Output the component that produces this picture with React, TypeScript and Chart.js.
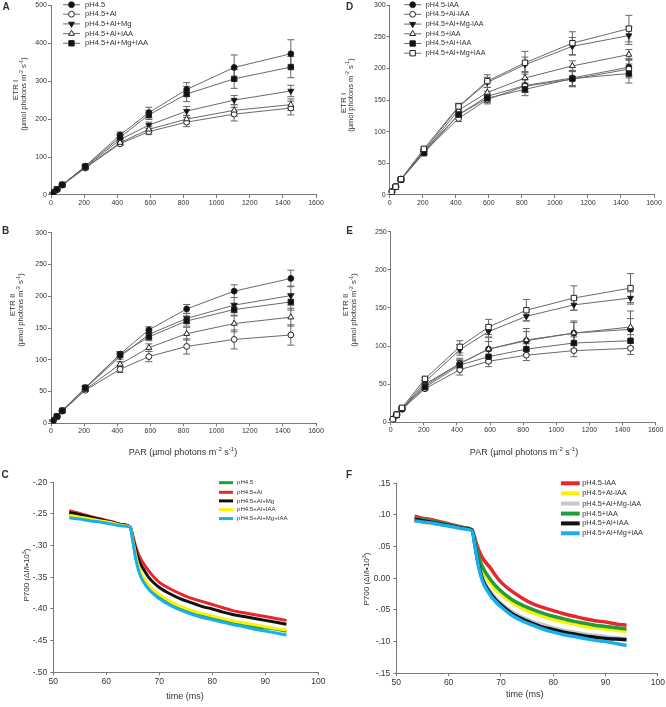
import React, { useEffect, useRef } from 'react';
import { Chart, registerables } from 'chart.js';
Chart.register(...registerables);

// ---------------- DATA ----------------
const PAR = [0, 12, 36, 68, 207, 417, 591, 819, 1106, 1448];

// Panel A (ETR I)
const A_PH45 = [0, 6, 15, 27, 76, 158, 217, 278, 336, 372];
const A_PH45_ERR = [0, 1, 1, 2, 3, 8, 14, 18, 33, 37];
const A_AL = [0, 5, 14, 26, 71, 135, 167, 192, 213, 229];
const A_AL_ERR = [0, 1, 1, 2, 3, 5, 8, 12, 18, 18];
const A_ALMG = [0, 6, 14, 27, 73, 146, 184, 221, 250, 274];
const A_ALMG_ERR = [0, 1, 1, 2, 3, 6, 8, 12, 12, 15];
const A_ALIAA = [0, 5, 14, 26, 72, 138, 173, 200, 223, 238];
const A_ALIAA_ERR = [0, 1, 1, 2, 3, 5, 8, 10, 15, 15];
const A_ALMGIAA = [0, 6, 15, 27, 75, 152, 211, 266, 306, 337];
const A_ALMGIAA_ERR = [0, 1, 1, 2, 3, 8, 12, 20, 25, 28];

// Panel B (ETR II)
const B_PH45 = [0, 4, 11, 20, 56, 109, 147, 180, 208, 228];
const B_PH45_ERR = [0, 1, 1, 1, 2, 4, 5, 7, 10, 13];
const B_AL = [0, 4, 10, 19, 52, 85, 105, 121, 132, 139];
const B_AL_ERR = [0, 1, 1, 1, 2, 5, 8, 12, 15, 16];
const B_ALMG = [0, 4, 11, 20, 55, 105, 140, 165, 186, 201];
const B_ALMG_ERR = [0, 1, 1, 1, 2, 4, 6, 8, 12, 15];
const B_ALIAA = [0, 4, 10, 19, 53, 93, 119, 141, 157, 167];
const B_ALIAA_ERR = [0, 1, 1, 1, 2, 4, 6, 10, 13, 14];
const B_ALMGIAA = [0, 4, 11, 20, 56, 108, 136, 161, 179, 191];
const B_ALMGIAA_ERR = [0, 1, 1, 1, 2, 4, 6, 8, 10, 13];

// Panel D (ETR I, IAA series)
const D_PH45_NOIAA = [0, 5, 13, 25, 69, 127, 156, 173, 185, 202];
const D_PH45_NOIAA_ERR = [0, 1, 1, 2, 3, 6, 8, 10, 12, 14];
const D_AL_NOIAA = [0, 5, 13, 24, 68, 121, 151, 172, 183, 199];
const D_AL_NOIAA_ERR = [0, 1, 1, 2, 3, 5, 7, 10, 12, 14];
const D_ALMG_NOIAA = [0, 5, 13, 25, 70, 139, 178, 206, 235, 252];
const D_ALMG_NOIAA_ERR = [0, 1, 1, 2, 3, 5, 8, 12, 14, 14];
const D_PH45_IAA = [0, 5, 13, 25, 68, 134, 162, 185, 204, 222];
const D_PH45_IAA_ERR = [0, 1, 1, 2, 3, 5, 8, 10, 8, 8];
const D_AL_IAA = [0, 5, 13, 24, 66, 127, 153, 167, 184, 192];
const D_AL_IAA_ERR = [0, 1, 1, 2, 3, 5, 7, 10, 12, 15];
const D_ALMG_IAA = [0, 5, 13, 25, 73, 140, 180, 209, 240, 263];
const D_ALMG_IAA_ERR = [0, 1, 1, 2, 3, 5, 10, 18, 18, 21];

// Panel E (ETR II, IAA series)
const E_PH45_NOIAA = [0, 4, 10, 18, 50, 77, 96, 107, 117, 122];
const E_PH45_NOIAA_ERR = [0, 1, 1, 1, 2, 5, 10, 12, 14, 14];
const E_AL_NOIAA = [0, 4, 9, 17, 44, 69, 80, 88, 94, 97];
const E_AL_NOIAA_ERR = [0, 1, 1, 1, 2, 7, 7, 7, 8, 8];
const E_ALMG_NOIAA = [0, 4, 10, 18, 53, 95, 119, 139, 154, 163];
const E_ALMG_NOIAA_ERR = [0, 1, 1, 1, 2, 7, 7, 6, 7, 8];
const E_PH45_IAA = [0, 4, 10, 18, 48, 77, 96, 108, 117, 125];
const E_PH45_IAA_ERR = [0, 1, 1, 1, 2, 7, 15, 15, 16, 21];
const E_AL_IAA = [0, 4, 10, 18, 46, 75, 86, 96, 104, 107];
const E_AL_IAA_ERR = [0, 1, 1, 1, 2, 6, 8, 7, 8, 8];
const E_ALMG_IAA = [0, 4, 10, 19, 57, 99, 125, 147, 163, 176];
const E_ALMG_IAA_ERR = [0, 1, 1, 1, 2, 8, 10, 14, 16, 19];

// Panel C (P700 kinetics)
const TIME_C = [53, 55, 57, 59, 61, 63, 64.5, 65, 65.5, 66, 66.5, 67, 68, 69, 70, 72, 74, 76, 78, 80, 82, 84, 86, 88, 90, 92, 94];
const C_PH45 = [-0.250, -0.253, -0.257, -0.260, -0.263, -0.267, -0.270, -0.291, -0.315, -0.332, -0.344, -0.352, -0.364, -0.373, -0.380, -0.390, -0.398, -0.404, -0.409, -0.414, -0.418, -0.421, -0.425, -0.428, -0.430, -0.432, -0.435];
const C_AL = [-0.245, -0.249, -0.254, -0.258, -0.262, -0.267, -0.270, -0.284, -0.300, -0.312, -0.321, -0.328, -0.340, -0.350, -0.358, -0.368, -0.376, -0.383, -0.388, -0.393, -0.398, -0.403, -0.406, -0.409, -0.412, -0.415, -0.418];
const C_ALMG = [-0.248, -0.251, -0.255, -0.259, -0.263, -0.267, -0.270, -0.287, -0.305, -0.320, -0.330, -0.337, -0.350, -0.359, -0.366, -0.376, -0.384, -0.390, -0.396, -0.400, -0.405, -0.409, -0.412, -0.415, -0.418, -0.421, -0.424];
const C_ALIAA = [-0.252, -0.255, -0.258, -0.261, -0.264, -0.268, -0.270, -0.290, -0.313, -0.330, -0.342, -0.350, -0.362, -0.371, -0.377, -0.388, -0.396, -0.402, -0.407, -0.411, -0.415, -0.419, -0.422, -0.425, -0.428, -0.431, -0.433];
const C_ALMGIAA = [-0.256, -0.258, -0.261, -0.263, -0.266, -0.269, -0.271, -0.293, -0.318, -0.337, -0.349, -0.357, -0.369, -0.377, -0.384, -0.394, -0.402, -0.408, -0.413, -0.417, -0.421, -0.425, -0.428, -0.432, -0.435, -0.438, -0.441];

// Panel F (P700 kinetics, IAA series)
const TIME_F = [53.5, 55, 57, 59, 61, 63, 64.5, 65, 65.5, 66, 66.5, 67, 68, 69, 70, 72, 74, 76, 78, 80, 82, 84, 86, 88, 90, 92, 94];
const F_PH45_NOIAA = [0.098, 0.095, 0.092, 0.088, 0.084, 0.080, 0.076, 0.064, 0.050, 0.040, 0.032, 0.026, 0.016, 0.004, -0.006, -0.020, -0.031, -0.040, -0.046, -0.051, -0.056, -0.060, -0.064, -0.067, -0.069, -0.072, -0.074];
const F_AL_NOIAA = [0.091, 0.089, 0.087, 0.085, 0.082, 0.079, 0.076, 0.058, 0.038, 0.022, 0.012, 0.004, -0.008, -0.018, -0.025, -0.038, -0.047, -0.054, -0.060, -0.065, -0.069, -0.072, -0.076, -0.078, -0.080, -0.082, -0.084];
const F_ALMG_NOIAA = [0.092, 0.090, 0.088, 0.085, 0.082, 0.079, 0.076, 0.055, 0.032, 0.014, 0.001, -0.008, -0.021, -0.031, -0.039, -0.052, -0.061, -0.068, -0.073, -0.078, -0.082, -0.085, -0.088, -0.090, -0.092, -0.094, -0.095];
const F_PH45_IAA = [0.095, 0.093, 0.090, 0.087, 0.083, 0.079, 0.076, 0.060, 0.042, 0.028, 0.018, 0.010, -0.002, -0.012, -0.020, -0.033, -0.042, -0.049, -0.055, -0.060, -0.064, -0.068, -0.071, -0.074, -0.076, -0.078, -0.080];
const F_AL_IAA = [0.093, 0.091, 0.088, 0.085, 0.082, 0.079, 0.076, 0.054, 0.030, 0.012, -0.002, -0.011, -0.024, -0.034, -0.042, -0.055, -0.064, -0.071, -0.077, -0.081, -0.085, -0.088, -0.091, -0.093, -0.095, -0.096, -0.097];
const F_ALMG_IAA = [0.091, 0.089, 0.087, 0.084, 0.081, 0.078, 0.075, 0.052, 0.028, 0.009, -0.005, -0.014, -0.027, -0.037, -0.045, -0.058, -0.067, -0.074, -0.080, -0.085, -0.089, -0.092, -0.095, -0.098, -0.100, -0.103, -0.106];

const LABELS_ABC = ['pH4.5', 'pH4.5+Al', 'pH4.5+Al+Mg', 'pH4.5+Al+IAA', 'pH4.5+Al+Mg+IAA'];
const LABELS_DEF = ['pH4.5-IAA', 'pH4.5+Al-IAA', 'pH4.5+Al+Mg-IAA', 'pH4.5+IAA', 'pH4.5+Al+IAA', 'pH4.5+Al+Mg+IAA'];

// ---------------- STYLE ----------------
const W = 666;
const H = 707;
const YW = 30;
const XH = 20;
const FONT = '"Liberation Sans", Arial, Helvetica, sans-serif';
const TXT = '#333333';
const AX = '#7a7a7a';
const LINE = '#6a6a6a';

const GREEN = '#1f9e3f';
const RED = '#e8262c';
const BLACK = '#111111';
const YELLOW = '#fff200';
const BLUE = '#18aeef';
const GRAY = '#c8c8c8';

type Mk = { pointStyle: string; radius: number; rotation: number; fill: string };
const MK: Record<string, Mk> = {
  fc: { pointStyle: 'circle', radius: 2.9, rotation: 0, fill: '#111' },
  oc: { pointStyle: 'circle', radius: 2.9, rotation: 0, fill: '#fff' },
  ft: { pointStyle: 'triangle', radius: 3.4, rotation: 180, fill: '#111' },
  ot: { pointStyle: 'triangle', radius: 3.4, rotation: 0, fill: '#fff' },
  fs: { pointStyle: 'rect', radius: 3.8, rotation: 0, fill: '#111' },
  os: { pointStyle: 'rect', radius: 3.8, rotation: 0, fill: '#fff' },
};

function drawMarker(ctx: CanvasRenderingContext2D, mk: Mk, x: number, y: number) {
  ctx.save();
  ctx.beginPath();
  if (mk.pointStyle === 'circle') {
    ctx.arc(x, y, mk.radius, 0, Math.PI * 2);
  } else if (mk.pointStyle === 'rect') {
    const s = mk.radius * Math.SQRT1_2;
    ctx.rect(x - s, y - s, 2 * s, 2 * s);
  } else {
    let rad = (mk.rotation * Math.PI) / 180;
    const r = mk.radius;
    ctx.moveTo(x + Math.sin(rad) * r, y - Math.cos(rad) * r);
    rad += (2 * Math.PI) / 3;
    ctx.lineTo(x + Math.sin(rad) * r, y - Math.cos(rad) * r);
    rad += (2 * Math.PI) / 3;
    ctx.lineTo(x + Math.sin(rad) * r, y - Math.cos(rad) * r);
    ctx.closePath();
  }
  ctx.fillStyle = mk.fill;
  ctx.fill();
  ctx.strokeStyle = '#222';
  ctx.lineWidth = 1;
  ctx.stroke();
  ctx.restore();
}

function parseRich(s: string) {
  const out: { t: string; sup: boolean }[] = [];
  const re = /\^\{([^}]*)\}/g;
  let last = 0;
  let m: RegExpExecArray | null;
  while ((m = re.exec(s))) {
    if (m.index > last) out.push({ t: s.slice(last, m.index), sup: false });
    out.push({ t: m[1], sup: true });
    last = re.lastIndex;
  }
  if (last < s.length) out.push({ t: s.slice(last), sup: false });
  return out;
}

type Txt = { x: number; y: number; t: string; size: number; bold?: boolean; rot?: number; align?: 'center' | 'left' };

function drawRich(ctx: CanvasRenderingContext2D, tx: Txt) {
  const segs = parseRich(tx.t);
  const f = (s: number) => `${tx.bold ? 'bold ' : ''}${s}px ${FONT}`;
  ctx.save();
  ctx.translate(tx.x, tx.y);
  if (tx.rot) ctx.rotate((tx.rot * Math.PI) / 180);
  let total = 0;
  for (const s of segs) {
    ctx.font = f(s.sup ? tx.size * 0.68 : tx.size);
    total += ctx.measureText(s.t).width;
  }
  let cx = tx.align === 'left' ? 0 : -total / 2;
  ctx.textBaseline = 'middle';
  ctx.textAlign = 'left';
  ctx.fillStyle = TXT;
  for (const s of segs) {
    const fs = s.sup ? tx.size * 0.68 : tx.size;
    ctx.font = f(fs);
    ctx.fillText(s.t, cx, s.sup ? -tx.size * 0.36 : 0);
    cx += ctx.measureText(s.t).width;
  }
  ctx.restore();
}

type LegItem = { label: string; color?: string; mk?: Mk };
type Leg = { x1: number; x2: number; tx: number; ys: number[]; size: number; lw: number; items: LegItem[] };

type PanelDef = {
  plot: [number, number, number, number];
  x: [number, number, number];
  y: [number, number, number];
  tickSize: number;
  yPad: number;
  xPad: number;
  fmt?: (v: number) => string;
  datasets: any[];
  texts: Txt[];
  legend: Leg;
};

const fmtInt = (v: number) => String(Math.round(v));
const fmtDec = (v: number) => {
  const r = Math.round(v * 100) / 100;
  if (r === 0) return '0.00';
  const s = Math.abs(r).toFixed(2).replace(/^0/, '');
  return (r < 0 ? '-' : '') + s;
};

function etrSets(vals: number[][], errs: number[][], labels: string[], mks: Mk[]) {
  return vals.map((v, i) => ({
    label: labels[i],
    data: PAR.map((x, j) => ({ x, y: v[j] })),
    errors: errs[i],
    borderColor: LINE,
    borderWidth: 1,
    pointStyle: mks[i].pointStyle,
    pointRadius: mks[i].radius,
    pointRotation: mks[i].rotation,
    pointBackgroundColor: mks[i].fill,
    pointBorderColor: '#222',
    pointBorderWidth: 1,
    tension: 0,
    order: -i,
  }));
}

function p700Sets(xs: number[], vals: number[][], labels: string[], colors: string[], lw: number) {
  return vals.map((v, i) => ({
    label: labels[i],
    data: xs.map((x, j) => ({ x, y: v[j] })),
    borderColor: colors[i],
    borderWidth: lw,
    pointRadius: 0,
    cubicInterpolationMode: 'monotone',
    order: -i,
  }));
}

const errPlugin = {
  id: 'errbars',
  beforeDatasetsDraw(chart: any) {
    const ctx = chart.ctx;
    const xs = chart.scales.x;
    const ys = chart.scales.y;
    chart.data.datasets.forEach((ds: any) => {
      if (!ds.errors) return;
      ctx.save();
      ctx.strokeStyle = '#666';
      ctx.lineWidth = 1;
      ds.data.forEach((p: any, i: number) => {
        const e = ds.errors[i];
        if (!e) return;
        const x = xs.getPixelForValue(p.x);
        const y1 = ys.getPixelForValue(p.y + e);
        const y2 = ys.getPixelForValue(p.y - e);
        ctx.beginPath();
        ctx.moveTo(x, y1);
        ctx.lineTo(x, y2);
        ctx.moveTo(x - 3.5, y1);
        ctx.lineTo(x + 3.5, y1);
        ctx.moveTo(x - 3.5, y2);
        ctx.lineTo(x + 3.5, y2);
        ctx.stroke();
      });
      ctx.restore();
    });
  },
};

function decoPlugin(def: PanelDef) {
  return {
    id: 'deco',
    afterDraw(chart: any) {
      const ctx = chart.ctx;
      def.texts.forEach((t) => drawRich(ctx, t));
      const lg = def.legend;
      lg.items.forEach((it, i) => {
        const y = lg.ys[i];
        ctx.save();
        ctx.strokeStyle = it.color || LINE;
        ctx.lineWidth = lg.lw;
        ctx.beginPath();
        ctx.moveTo(lg.x1, y);
        ctx.lineTo(lg.x2, y);
        ctx.stroke();
        ctx.restore();
        if (it.mk) drawMarker(ctx, it.mk, (lg.x1 + lg.x2) / 2, y);
        drawRich(ctx, { x: lg.tx, y, t: it.label, size: lg.size, align: 'left' });
      });
    },
  };
}

function axis(r: [number, number, number], size: number, pad: number, fmt: (v: number) => string, isX: boolean) {
  return {
    type: 'linear',
    position: isX ? 'bottom' : 'left',
    min: r[0],
    max: r[1],
    ticks: {
      stepSize: r[2],
      autoSkip: false,
      maxRotation: 0,
      minRotation: 0,
      font: { family: FONT, size },
      color: TXT,
      padding: pad,
      callback: (v: any) => fmt(Number(v)),
    },
    grid: { drawOnChartArea: false, drawTicks: true, tickLength: 3, color: AX, lineWidth: 1 },
    border: { display: true, color: AX, width: 1 },
    afterFit: (s: any) => {
      if (isX) s.height = XH;
      else s.width = YW;
    },
  };
}

function Panel({ def }: { def: PanelDef }) {
  const ref = useRef<HTMLCanvasElement | null>(null);
  useEffect(() => {
    if (!ref.current) return;
    const [l, t, r, b] = def.plot;
    const chart = new Chart(ref.current, {
      type: 'line',
      data: { datasets: def.datasets },
      options: {
        responsive: false,
        maintainAspectRatio: false,
        animation: false,
        events: [],
        layout: { padding: { left: l - YW, top: t, right: W - r, bottom: H - b - XH } },
        plugins: { legend: { display: false }, tooltip: { enabled: false } },
        scales: {
          x: axis(def.x, def.tickSize, def.xPad, fmtInt, true),
          y: axis(def.y, def.tickSize, def.yPad, def.fmt || fmtInt, false),
        },
      } as any,
      plugins: [errPlugin, decoPlugin(def)] as any,
    });
    return () => chart.destroy();
  }, [def]);
  return (
    <canvas
      ref={ref}
      width={W}
      height={H}
      style={{ position: 'absolute', left: 0, top: 0, width: W, height: H }}
    />
  );
}

const MK_ABC = [MK.fc, MK.oc, MK.ft, MK.ot, MK.fs];
const MK_DEF = [MK.fc, MK.oc, MK.ft, MK.ot, MK.fs, MK.os];
const UNIT = '(µmol photons m^{-2} s^{-1})';

const DEFS: PanelDef[] = [
  {
    plot: [51, 4.7, 316, 195],
    x: [0, 1600, 200],
    y: [0, 500, 100],
    tickSize: 7,
    yPad: 1,
    xPad: 1,
    datasets: etrSets(
      [A_PH45, A_AL, A_ALMG, A_ALIAA, A_ALMGIAA],
      [A_PH45_ERR, A_AL_ERR, A_ALMG_ERR, A_ALIAA_ERR, A_ALMGIAA_ERR],
      LABELS_ABC, MK_ABC),
    texts: [
      { x: 6, y: 7.5, t: 'A', size: 10, bold: true },
      { x: 15.5, y: 90, t: 'ETR I', size: 8, rot: -90 },
      { x: 24, y: 94, t: UNIT, size: 7.5, rot: -90 },
    ],
    legend: { x1: 63, x2: 80, tx: 85, ys: [4.7, 14.2, 23.9, 33.6, 43.3], size: 7.6, lw: 1, items: LABELS_ABC.map((l, i) => ({ label: l, mk: MK_ABC[i] })) },
  },
  {
    plot: [389.7, 4.7, 654, 195],
    x: [0, 1600, 200],
    y: [0, 300, 50],
    tickSize: 7,
    yPad: 1,
    xPad: 1,
    datasets: etrSets(
      [D_PH45_NOIAA, D_AL_NOIAA, D_ALMG_NOIAA, D_PH45_IAA, D_AL_IAA, D_ALMG_IAA],
      [D_PH45_NOIAA_ERR, D_AL_NOIAA_ERR, D_ALMG_NOIAA_ERR, D_PH45_IAA_ERR, D_AL_IAA_ERR, D_ALMG_IAA_ERR],
      LABELS_DEF, MK_DEF),
    texts: [
      { x: 349.5, y: 7.5, t: 'D', size: 10, bold: true },
      { x: 343.5, y: 103, t: 'ETR I', size: 8, rot: -90 },
      { x: 350.5, y: 95, t: UNIT, size: 7.5, rot: -90 },
    ],
    legend: { x1: 404, x2: 421.3, tx: 425.7, ys: [4.7, 14.3, 24.1, 33.8, 43.5, 53.2], size: 7.2, lw: 1, items: LABELS_DEF.map((l, i) => ({ label: l, mk: MK_DEF[i] })) },
  },
  {
    plot: [51, 232.7, 316, 423.3],
    x: [0, 1600, 200],
    y: [0, 300, 50],
    tickSize: 7,
    yPad: 1,
    xPad: 1,
    datasets: etrSets(
      [B_PH45, B_AL, B_ALMG, B_ALIAA, B_ALMGIAA],
      [B_PH45_ERR, B_AL_ERR, B_ALMG_ERR, B_ALIAA_ERR, B_ALMGIAA_ERR],
      LABELS_ABC, MK_ABC),
    texts: [
      { x: 5.5, y: 231, t: 'B', size: 10, bold: true },
      { x: 12.5, y: 305, t: 'ETR II', size: 8, rot: -90 },
      { x: 21, y: 310, t: UNIT, size: 7.5, rot: -90 },
      { x: 183, y: 453, t: 'PAR ' + UNIT, size: 9 },
    ],
    legend: { x1: 0, x2: 0, tx: 0, ys: [], size: 7, lw: 1, items: [] },
  },
  {
    plot: [390.7, 231.7, 655.7, 422.3],
    x: [0, 1600, 200],
    y: [0, 250, 50],
    tickSize: 7,
    yPad: 1,
    xPad: 1,
    datasets: etrSets(
      [E_PH45_NOIAA, E_AL_NOIAA, E_ALMG_NOIAA, E_PH45_IAA, E_AL_IAA, E_ALMG_IAA],
      [E_PH45_NOIAA_ERR, E_AL_NOIAA_ERR, E_ALMG_NOIAA_ERR, E_PH45_IAA_ERR, E_AL_IAA_ERR, E_ALMG_IAA_ERR],
      LABELS_DEF, MK_DEF),
    texts: [
      { x: 349.5, y: 231, t: 'E', size: 10, bold: true },
      { x: 345.5, y: 305, t: 'ETR II', size: 8, rot: -90 },
      { x: 354, y: 310, t: UNIT, size: 7.5, rot: -90 },
      { x: 524, y: 453, t: 'PAR ' + UNIT, size: 9 },
    ],
    legend: { x1: 0, x2: 0, tx: 0, ys: [], size: 7, lw: 1, items: [] },
  },
  {
    plot: [53.3, 482.3, 318.3, 672.3],
    x: [50, 100, 10],
    y: [-0.5, -0.2, 0.05],
    tickSize: 8.5,
    yPad: 3,
    xPad: 1,
    fmt: fmtDec,
    datasets: p700Sets(TIME_C, [C_PH45, C_AL, C_ALMG, C_ALIAA, C_ALMGIAA], LABELS_ABC, [GREEN, RED, BLACK, YELLOW, BLUE], 3),
    texts: [
      { x: 5, y: 475.5, t: 'C', size: 10, bold: true },
      { x: 27, y: 575, t: 'P700 (ΔI/I•10^{3})', size: 8, rot: -90 },
      { x: 185, y: 696.7, t: 'time (ms)', size: 9 },
    ],
    legend: {
      x1: 219, x2: 233, tx: 237, ys: [482.7, 492.3, 500.9, 509.6, 518.6], size: 6.1, lw: 3,
      items: LABELS_ABC.map((l, i) => ({ label: l, color: [GREEN, RED, BLACK, YELLOW, BLUE][i] })),
    },
  },
  {
    plot: [396.3, 483.3, 658, 673.3],
    x: [50, 100, 10],
    y: [-0.15, 0.15, 0.05],
    tickSize: 8.5,
    yPad: 3,
    xPad: 1,
    fmt: fmtDec,
    datasets: p700Sets(TIME_F, [F_PH45_NOIAA, F_AL_NOIAA, F_ALMG_NOIAA, F_PH45_IAA, F_AL_IAA, F_ALMG_IAA], LABELS_DEF, [RED, YELLOW, GRAY, GREEN, BLACK, BLUE], 3.5),
    texts: [
      { x: 349, y: 475.5, t: 'F', size: 10, bold: true },
      { x: 367, y: 579, t: 'P700 (ΔI/I•10^{3})', size: 8, rot: -90 },
      { x: 524.7, y: 695, t: 'time (ms)', size: 9 },
    ],
    legend: {
      x1: 561, x2: 579.7, tx: 582.3, ys: [483.3, 493.4, 503.6, 513.6, 523.4, 533.3], size: 7.3, lw: 4,
      items: LABELS_DEF.map((l, i) => ({ label: l, color: [RED, YELLOW, GRAY, GREEN, BLACK, BLUE][i] })),
    },
  },
];

export default function App() {
  return (
    <div style={{ position: 'absolute', left: 0, top: 0, width: W, height: H, background: '#fff', overflow: 'hidden' }}>
      {DEFS.map((d, i) => (
        <Panel key={i} def={d} />
      ))}
    </div>
  );
}
